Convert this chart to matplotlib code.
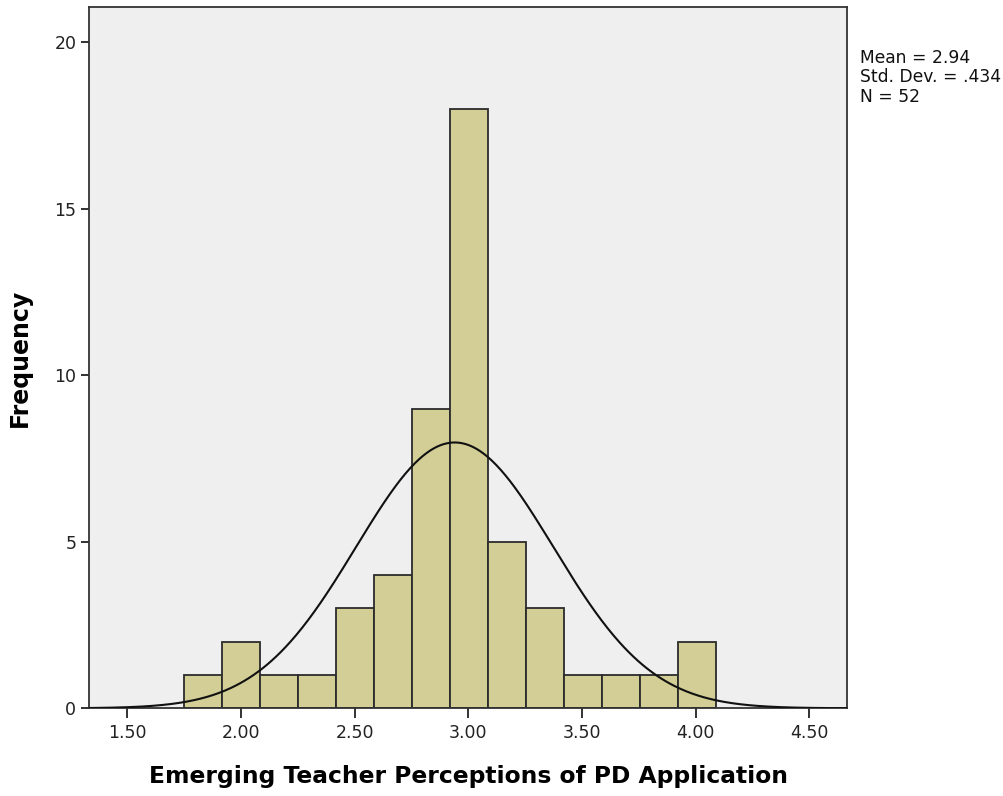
import numpy as np
import matplotlib
matplotlib.use("Agg")
import matplotlib.pyplot as plt

plt.rcParams['font.family'] = ['DejaVu Sans']

# Data
bin_start = 1.75
bin_width = 0.167
counts = [1, 2, 1, 1, 3, 4, 9, 18, 5, 3, 1, 1, 1, 2]
mean = 2.94
std = 0.434
n = 52
xticks = [1.5, 2.0, 2.5, 3.0, 3.5, 4.0, 4.5]
xticklabels = ["1.50", "2.00", "2.50", "3.00", "3.50", "4.00", "4.50"]
yticks = [0, 5, 10, 15, 20]

fig = plt.figure(figsize=(10.04, 7.96), dpi=100)
ax = fig.add_axes([0.0891, 0.1102, 0.755, 0.881])
ax.set_facecolor('#EFEFEF')

edges = bin_start + bin_width * np.arange(len(counts) + 1)
ax.bar(edges[:-1], counts, width=bin_width, align='edge', color='#D2CE96',
       edgecolor='#2B2B2B', linewidth=1.3, zorder=2)

xlim = (1.334, 4.667)
xs = np.linspace(xlim[0], xlim[1], 500)
ys = n * bin_width * np.exp(-0.5 * ((xs - mean) / std) ** 2) / (std * np.sqrt(2 * np.pi))
ax.plot(xs, ys, color='#111111', linewidth=1.5, zorder=3)

ax.set_xlim(*xlim)
ax.set_ylim(0, 21.06)
ax.set_xticks(xticks)
ax.set_xticklabels(xticklabels)
ax.set_yticks(yticks)
ax.tick_params(axis='both', labelsize=12.5, colors='#222222', length=7.5, width=1.3)
ax.tick_params(axis='y', length=6)
for s in ax.spines.values():
    s.set_linewidth(1.3)
    s.set_color('#333333')

ax.set_xlabel('Emerging Teacher Perceptions of PD Application', fontsize=16.8,
              fontweight='bold', labelpad=17)
ax.set_ylabel('Frequency', fontsize=17, fontweight='bold', labelpad=16)

fig.text(0.857, 0.938, 'Mean = 2.94\nStd. Dev. = .434\nN = 52', fontsize=12.3,
         va='top', ha='left', linespacing=1.08, color='#111111')

fig.savefig('out.png', dpi=100)
